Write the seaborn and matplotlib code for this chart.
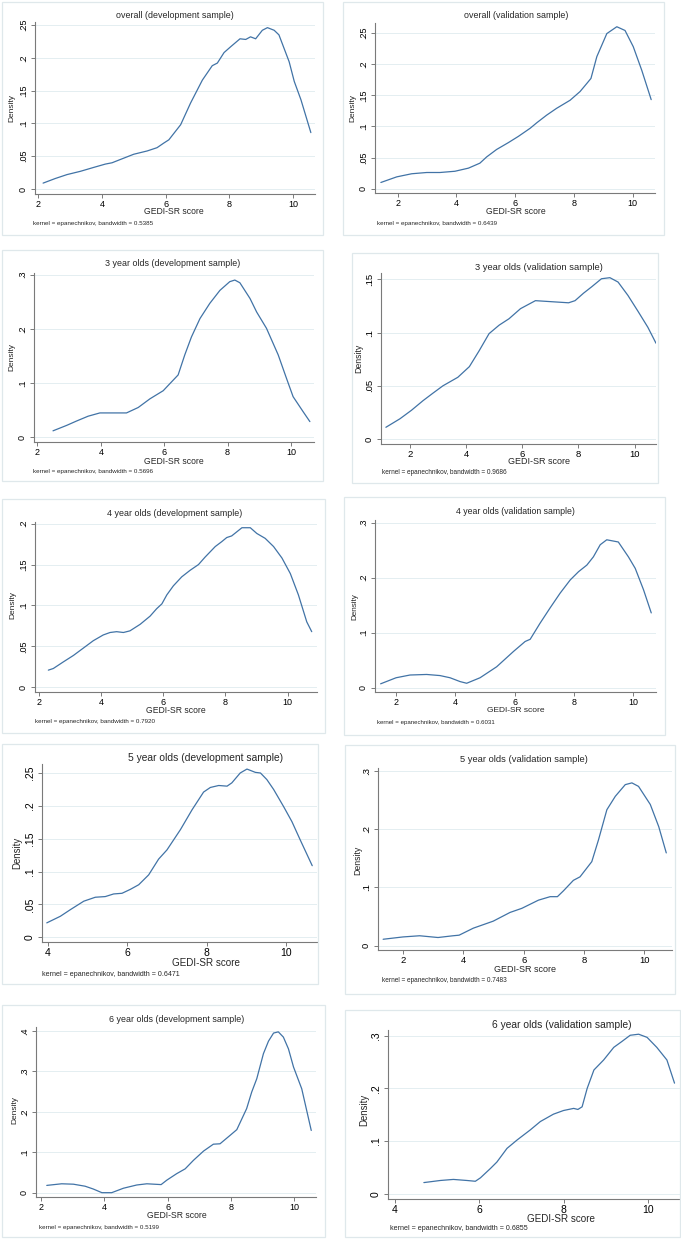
import numpy as np
import pandas as pd
import seaborn as sns
import matplotlib.pyplot as plt
from matplotlib.patches import Rectangle

#-----------------------------------------------------------------------------------------------------------------------
"""Data read off the reference (kernel density curves, GEDI-SR score vs density)"""
overall_dev_x = [2.16, 2.54, 2.91, 3.33, 3.75, 4.11, 4.32, 4.58, 5.00, 5.42, 5.73, 5.94, 6.10, 6.47, 6.78, 7.15,
                 7.46, 7.62, 7.83, 8.04, 8.33, 8.51, 8.66, 8.82, 9.03, 9.19, 9.40, 9.55, 9.87, 10.03, 10.24, 10.55]
overall_dev_y = [0.009, 0.016, 0.022, 0.027, 0.033, 0.038, 0.040, 0.045, 0.053, 0.058, 0.063, 0.070, 0.075, 0.098,
                 0.131, 0.166, 0.188, 0.192, 0.208, 0.217, 0.229, 0.228, 0.232, 0.229, 0.242, 0.246, 0.242, 0.235,
                 0.194, 0.164, 0.136, 0.086]

overall_val_x = [1.43, 1.97, 2.48, 2.99, 3.44, 3.95, 4.41, 4.80, 5.03, 5.37, 5.77, 6.11, 6.51, 6.74, 7.07, 7.41,
                 7.87, 8.21, 8.44, 8.58, 8.78, 9.12, 9.46, 9.74, 10.02, 10.31, 10.63]
overall_val_y = [0.010, 0.019, 0.024, 0.026, 0.026, 0.028, 0.033, 0.041, 0.051, 0.063, 0.074, 0.084, 0.097, 0.106,
                 0.118, 0.129, 0.142, 0.156, 0.169, 0.177, 0.212, 0.249, 0.260, 0.254, 0.228, 0.190, 0.143]

age3_dev_x = [2.49, 2.92, 3.23, 3.60, 3.97, 4.39, 4.81, 5.18, 5.55, 5.97, 6.18, 6.44, 6.65, 6.86, 7.13, 7.44,
              7.76, 8.07, 8.23, 8.39, 8.71, 8.92, 9.23, 9.60, 9.86, 10.07, 10.39, 10.60]
age3_dev_y = [0.012, 0.022, 0.030, 0.039, 0.045, 0.045, 0.045, 0.055, 0.071, 0.086, 0.099, 0.115, 0.152, 0.185,
              0.219, 0.247, 0.271, 0.287, 0.290, 0.285, 0.256, 0.231, 0.201, 0.152, 0.109, 0.075, 0.047, 0.029]

age3_val_x = [1.15, 1.65, 2.06, 2.47, 2.82, 3.18, 3.71, 4.12, 4.47, 4.82, 5.18, 5.53, 5.94, 6.47, 7.06, 7.65,
              7.88, 8.18, 8.47, 8.82, 9.12, 9.41, 9.76, 10.12, 10.47, 10.76]
age3_val_y = [0.011, 0.019, 0.027, 0.036, 0.043, 0.050, 0.058, 0.068, 0.083, 0.099, 0.107, 0.113, 0.1225, 0.130,
              0.129, 0.128, 0.130, 0.137, 0.143, 0.1506, 0.1516, 0.1475, 0.135, 0.120, 0.105, 0.090]

age4_dev_x = [2.29, 2.45, 2.77, 3.10, 3.42, 3.74, 4.06, 4.28, 4.49, 4.71, 4.92, 5.25, 5.57, 5.78, 5.95, 6.11,
              6.32, 6.59, 6.86, 7.13, 7.34, 7.67, 7.88, 8.04, 8.20, 8.53, 8.80, 9.01, 9.28, 9.55, 9.82, 10.09,
              10.35, 10.62, 10.78]
age4_dev_y = [0.021, 0.023, 0.031, 0.039, 0.048, 0.057, 0.064, 0.067, 0.068, 0.067, 0.069, 0.077, 0.087, 0.096,
              0.102, 0.113, 0.124, 0.135, 0.143, 0.150, 0.159, 0.172, 0.178, 0.183, 0.185, 0.195, 0.195, 0.188,
              0.182, 0.172, 0.158, 0.139, 0.113, 0.080, 0.068]

age4_val_x = [1.48, 2.00, 2.47, 3.03, 3.48, 3.82, 4.16, 4.38, 4.83, 5.39, 5.96, 6.35, 6.52, 6.85, 7.19, 7.53,
              7.87, 8.15, 8.43, 8.65, 8.88, 9.10, 9.49, 9.83, 10.06, 10.34, 10.60]
age4_val_y = [0.007, 0.018, 0.023, 0.024, 0.022, 0.018, 0.011, 0.008, 0.018, 0.038, 0.066, 0.084, 0.088, 0.117,
              0.145, 0.172, 0.196, 0.211, 0.223, 0.238, 0.260, 0.269, 0.265, 0.238, 0.217, 0.178, 0.136]

age5_dev_x = [3.98, 4.32, 4.57, 4.91, 5.20, 5.45, 5.66, 5.87, 6.08, 6.29, 6.54, 6.79, 7.00, 7.34, 7.63, 7.92,
              8.09, 8.30, 8.51, 8.63, 8.84, 9.01, 9.22, 9.35, 9.51, 9.68, 9.93, 10.14, 10.35, 10.65]
age5_dev_y = [0.022, 0.032, 0.042, 0.055, 0.061, 0.062, 0.066, 0.067, 0.073, 0.080, 0.095, 0.119, 0.133, 0.164,
              0.194, 0.221, 0.228, 0.231, 0.230, 0.235, 0.250, 0.256, 0.251, 0.250, 0.240, 0.225, 0.199, 0.176,
              0.148, 0.109]

age5_val_x = [1.34, 2.00, 2.55, 3.16, 3.66, 3.86, 4.33, 4.99, 5.55, 5.94, 6.49, 6.88, 7.12, 7.32, 7.65, 7.87,
              8.26, 8.48, 8.76, 9.04, 9.37, 9.59, 9.81, 10.20, 10.48, 10.73]
age5_val_y = [0.011, 0.015, 0.017, 0.014, 0.017, 0.018, 0.030, 0.042, 0.057, 0.064, 0.078, 0.084, 0.084, 0.094,
              0.112, 0.118, 0.144, 0.181, 0.233, 0.256, 0.276, 0.279, 0.273, 0.242, 0.204, 0.159]

age6_dev_x = [2.18, 2.65, 3.02, 3.39, 3.65, 3.92, 4.23, 4.60, 5.02, 5.34, 5.79, 5.97, 6.28, 6.55, 6.81, 7.13,
              7.44, 7.65, 7.97, 8.18, 8.49, 8.65, 8.81, 9.02, 9.18, 9.34, 9.49, 9.65, 9.81, 9.97, 10.23, 10.53]
age6_dev_y = [0.018, 0.022, 0.021, 0.016, 0.009, 0.000, 0.000, 0.011, 0.019, 0.022, 0.020, 0.031, 0.047, 0.059,
              0.080, 0.103, 0.120, 0.121, 0.142, 0.156, 0.208, 0.249, 0.282, 0.344, 0.375, 0.395, 0.398, 0.385,
              0.356, 0.311, 0.257, 0.154]

age6_val_x = [4.69, 5.08, 5.39, 5.71, 5.91, 6.03, 6.27, 6.42, 6.66, 6.90, 7.21, 7.45, 7.76, 8.00, 8.24, 8.34,
              8.44, 8.56, 8.72, 8.95, 9.19, 9.38, 9.58, 9.78, 9.98, 10.21, 10.45, 10.63]
age6_val_y = [0.021, 0.025, 0.027, 0.025, 0.0235, 0.030, 0.048, 0.060, 0.086, 0.102, 0.121, 0.137, 0.151, 0.158,
              0.162, 0.160, 0.165, 0.200, 0.235, 0.254, 0.278, 0.289, 0.301, 0.303, 0.297, 0.278, 0.254, 0.210]

titles = ["overall (development sample)", "overall (validation sample)",
          "3 year olds (development sample)", "3 year olds (validation sample)",
          "4 year olds (development sample)", "4 year olds (validation sample)",
          "5 year olds (development sample)", "5 year olds (validation sample)",
          "6 year olds (development sample)", "6 year olds (validation sample)"]
bandwidths = ["0.5385", "0.6439", "0.5696", "0.9686", "0.7920", "0.6031", "0.6471", "0.7483", "0.5199", "0.6855"]

xs = [overall_dev_x, overall_val_x, age3_dev_x, age3_val_x, age4_dev_x, age4_val_x,
      age5_dev_x, age5_val_x, age6_dev_x, age6_val_x]
ys = [overall_dev_y, overall_val_y, age3_dev_y, age3_val_y, age4_dev_y, age4_val_y,
      age5_dev_y, age5_val_y, age6_dev_y, age6_val_y]

x_ticks = [[2, 4, 6, 8, 10], [2, 4, 6, 8, 10], [2, 4, 6, 8, 10], [2, 4, 6, 8, 10], [2, 4, 6, 8, 10],
           [2, 4, 6, 8, 10], [4, 6, 8, 10], [2, 4, 6, 8, 10], [2, 4, 6, 8, 10], [4, 6, 8, 10]]
y_ticks = [[0, .05, .1, .15, .2, .25], [0, .05, .1, .15, .2, .25], [0, .1, .2, .3], [0, .05, .1, .15],
           [0, .05, .1, .15, .2], [0, .1, .2, .3], [0, .05, .1, .15, .2, .25], [0, .1, .2, .3],
           [0, .1, .2, .3, .4], [0, .1, .2, .3]]

#-----------------------------------------------------------------------------------------------------------------------
"""Layout (pixel boxes of each screenshot panel)"""
# frame box, axes box (l, t, r, b), xlim, ylim, title (x, y), ylabel (x, y), xlabel (x, y), note (x, y), scale
layout = [
    dict(frame=(2, 2, 323, 235), ax=(35, 22, 315, 194), xlim=(1.906, 10.68), ylim=(-0.0076, 0.2546),
         title=(175, 15), ylab=(12, 108), xlab=(174, 212), note=(33, 223), s=1.0),
    dict(frame=(343, 2, 664, 235), ax=(375, 23, 655, 193), xlim=(1.23, 10.76), ylim=(-0.0069, 0.266),
         title=(516, 16), ylab=(353, 108), xlab=(516, 212), note=(377, 223), s=1.0),
    dict(frame=(2, 250, 323, 481), ax=(34, 273, 314, 442), xlim=(1.89, 10.73), ylim=(-0.0086, 0.303),
         title=(173, 264), ylab=(12, 357), xlab=(174, 461), note=(33, 471), s=1.0),
    dict(frame=(352, 253, 658, 483), ax=(381, 273, 656, 444), xlim=(0.976, 10.76), ylim=(-0.0047, 0.156),
         title=(539, 267), ylab=(359, 358), xlab=(539, 462), note=(382, 473), s=1.05),
    dict(frame=(2, 499, 325, 733), ax=(35, 522, 317, 692), xlim=(1.86, 10.95), ylim=(-0.0057, 0.202),
         title=(175, 513), ylab=(13, 605), xlab=(176, 710), note=(35, 722), s=1.0),
    dict(frame=(344, 497, 665, 735), ax=(375, 520, 656, 692), xlim=(1.29, 10.76), ylim=(-0.0079, 0.305),
         title=(515, 512), ylab=(355, 607), xlab=(516, 711), note=(377, 723), s=0.98),
    dict(frame=(2, 744, 318, 984), ax=(42, 764, 317, 942), xlim=(3.86, 10.77), ylim=(-0.0071, 0.2637),
         title=(206, 758), ylab=(17, 853), xlab=(206, 963), note=(42, 974), s=1.15),
    dict(frame=(345, 745, 675, 994), ax=(378, 768, 672, 950), xlim=(1.17, 10.92), ylim=(-0.0074, 0.3045),
         title=(524, 760), ylab=(358, 860), xlab=(525, 970), note=(382, 981), s=1.05),
    dict(frame=(2, 1005, 325, 1237), ax=(36, 1027, 316, 1197), xlim=(1.84, 10.68), ylim=(-0.0107, 0.41),
         title=(177, 1020), ylab=(15, 1110), xlab=(177, 1216), note=(39, 1227), s=1.0),
    dict(frame=(345, 1010, 680, 1237), ax=(388, 1030, 680, 1199), xlim=(3.84, 10.76), ylim=(-0.0102, 0.311),
         title=(562, 1025), ylab=(364, 1110), xlab=(561, 1219), note=(390, 1228), s=1.15),
]

#-----------------------------------------------------------------------------------------------------------------------
"""Styling"""
sns.set_theme(style='white')
plt.rcParams['font.family'] = ['Liberation Sans', 'DejaVu Sans']

W, H = 681, 1240
line_color = '#4173a6'
grid_color = '#e4eef1'
frame_color = '#dfe8eb'
axis_color = '#7a7a7a'

fig = plt.figure(figsize=(W / 100, H / 100), dpi=100)
fig.patch.set_facecolor('white')


def fx(x):
    return x / W


def fy(y):
    return 1 - y / H


def fmt(v):
    return '0' if v == 0 else ('%g' % v).lstrip('0')


#-----------------------------------------------------------------------------------------------------------------------
"""Drawing the panels"""
for i, L in enumerate(layout):
    s = L['s']
    f0, f1, f2, f3 = L['frame']
    fig.add_artist(Rectangle((fx(f0), fy(f3)), fx(f2 - f0), (f3 - f1) / H, transform=fig.transFigure,
                             fill=False, edgecolor=frame_color, linewidth=0.9))

    l, t, r, b = L['ax']
    ax = fig.add_axes([fx(l), fy(b), fx(r - l), (b - t) / H])
    ax.set_facecolor('none')

    for yt in y_ticks[i]:
        ax.axhline(yt, color=grid_color, linewidth=0.7, zorder=0)

    df = pd.DataFrame({'score': xs[i], 'density': ys[i]})
    sns.lineplot(data=df, x='score', y='density', ax=ax, color=line_color, linewidth=0.9, zorder=3)

    ax.set_xlim(*L['xlim'])
    ax.set_ylim(*L['ylim'])
    ax.set_xticks(x_ticks[i])
    ax.set_xticklabels([str(v) for v in x_ticks[i]])
    ax.set_yticks(y_ticks[i])
    ax.set_yticklabels([fmt(v) for v in y_ticks[i]], rotation=90, va='center')
    ax.set_xlabel('')
    ax.set_ylabel('')

    ax.spines['top'].set_visible(False)
    ax.spines['right'].set_visible(False)
    for sp in ['left', 'bottom']:
        ax.spines[sp].set_color(axis_color)
        ax.spines[sp].set_linewidth(0.8)
    ax.tick_params(axis='both', direction='out', length=3, width=0.7, color=axis_color,
                   labelsize=6.5 * s, labelcolor='black')
    ax.tick_params(axis='x', bottom=True, pad=1.6)
    ax.tick_params(axis='y', left=True, pad=2.0)

    # Title, axis titles and the kernel note
    fig.text(fx(L['title'][0]), fy(L['title'][1]), titles[i], ha='center', va='center', fontsize=6.4 * s)
    fig.text(fx(L['ylab'][0]), fy(L['ylab'][1]), 'Density', ha='center', va='center', rotation=90,
             fontsize=6.0 * s)
    fig.text(fx(L['xlab'][0]), fy(L['xlab'][1]), 'GEDI-SR score', ha='center', va='center', fontsize=6.2 * s)
    fig.text(fx(L['note'][0]), fy(L['note'][1]), 'kernel = epanechnikov, bandwidth = ' + bandwidths[i],
             ha='left', va='center', fontsize=4.5 * s)

#-----------------------------------------------------------------------------------------------------------------------
"""Saving"""
fig.savefig('out.png', dpi=100)
